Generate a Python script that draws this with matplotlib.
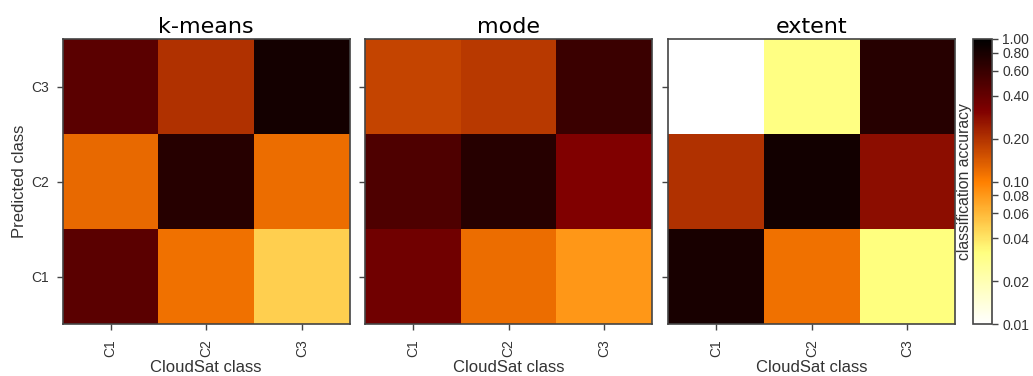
import numpy as np
import matplotlib
matplotlib.use("Agg")
import matplotlib.pyplot as plt
from matplotlib.colors import LogNorm
from matplotlib.ticker import FixedLocator, FixedFormatter, NullLocator

# Column-normalised confusion matrices: rows = predicted class (C1..C3),
# columns = CloudSat class (C1..C3)
classes = ["C1", "C2", "C3"]
methods = ["k-means", "mode", "extent"]

kmeans = [[0.44, 0.115, 0.049],
          [0.123, 0.70, 0.119],
          [0.44, 0.204, 0.835]]
mode = [[0.363, 0.119, 0.081],
        [0.49, 0.70, 0.316],
        [0.17, 0.19, 0.59]]
extent = [[0.80, 0.115, 0.032],
          [0.204, 0.84, 0.28],
          [0.0, 0.031, 0.70]]

cbar_ticks = [0.01, 0.02, 0.04, 0.06, 0.08, 0.1, 0.2, 0.4, 0.6, 0.8, 1.0]

plt.rcParams["font.family"] = ["Liberation Sans", "DejaVu Sans"]
edge = "#444444"
txt = "#333333"

fig = plt.figure(figsize=(10.33, 3.76), dpi=100)
W, H = 1033.0, 376.0
top, bottom = 39.0, 324.3
lefts = [62.7, 365.0, 668.3]
width = 287.0

norm = LogNorm(vmin=0.01, vmax=1.0)
cmap = plt.get_cmap("afmhot_r")

for i, (name, mat) in enumerate(zip(methods, [kmeans, mode, extent])):
    ax = fig.add_axes([lefts[i] / W, 1 - bottom / H, width / W, (bottom - top) / H])
    data = np.ma.masked_less_equal(np.array(mat, dtype=float), 0.0)
    im = ax.pcolormesh(np.arange(4) - 0.5, np.arange(4) - 0.5, data,
                       cmap=cmap, norm=norm)
    ax.set_xlim(-0.5, 2.5)
    ax.set_ylim(-0.5, 2.5)
    ax.set_facecolor("white")
    ax.set_xticks(range(3))
    ax.set_xticklabels(classes, rotation=90, fontsize=10, color=txt)
    ax.set_yticks(range(3))
    if i == 0:
        ax.set_yticklabels(classes, fontsize=10, color=txt)
        ax.set_ylabel("Predicted class", fontsize=12, color=txt, labelpad=3)
    else:
        ax.set_yticklabels([])
    ax.set_xlabel("CloudSat class", fontsize=12, color=txt, labelpad=2)
    ax.set_title(name, fontsize=16, family="DejaVu Sans", pad=4)
    ax.tick_params(axis="x", direction="out", length=4, width=1, color=edge, pad=7)
    ax.tick_params(axis="y", direction="out", length=4, width=1, color=edge, pad=6)
    for s in ax.spines.values():
        s.set_color(edge)
        s.set_linewidth(1.2)

cax = fig.add_axes([973.3 / W, 1 - bottom / H, 19.0 / W, (bottom - top) / H])
cb = fig.colorbar(im, cax=cax)
cax.yaxis.set_major_locator(FixedLocator(cbar_ticks))
cax.yaxis.set_major_formatter(FixedFormatter(["%.2f" % t for t in cbar_ticks]))
cax.yaxis.set_minor_locator(NullLocator())
cax.tick_params(direction="out", length=4, width=1, color=edge, labelsize=10,
                labelcolor=txt, pad=3)
cb.outline.set_edgecolor(edge)
cb.outline.set_linewidth(1.2)
cb.set_label("classification accuracy", fontsize=11.3, color=txt)
cax.yaxis.set_label_position("left")
cax.yaxis.labelpad = 1

fig.savefig("out.png", dpi=100)
